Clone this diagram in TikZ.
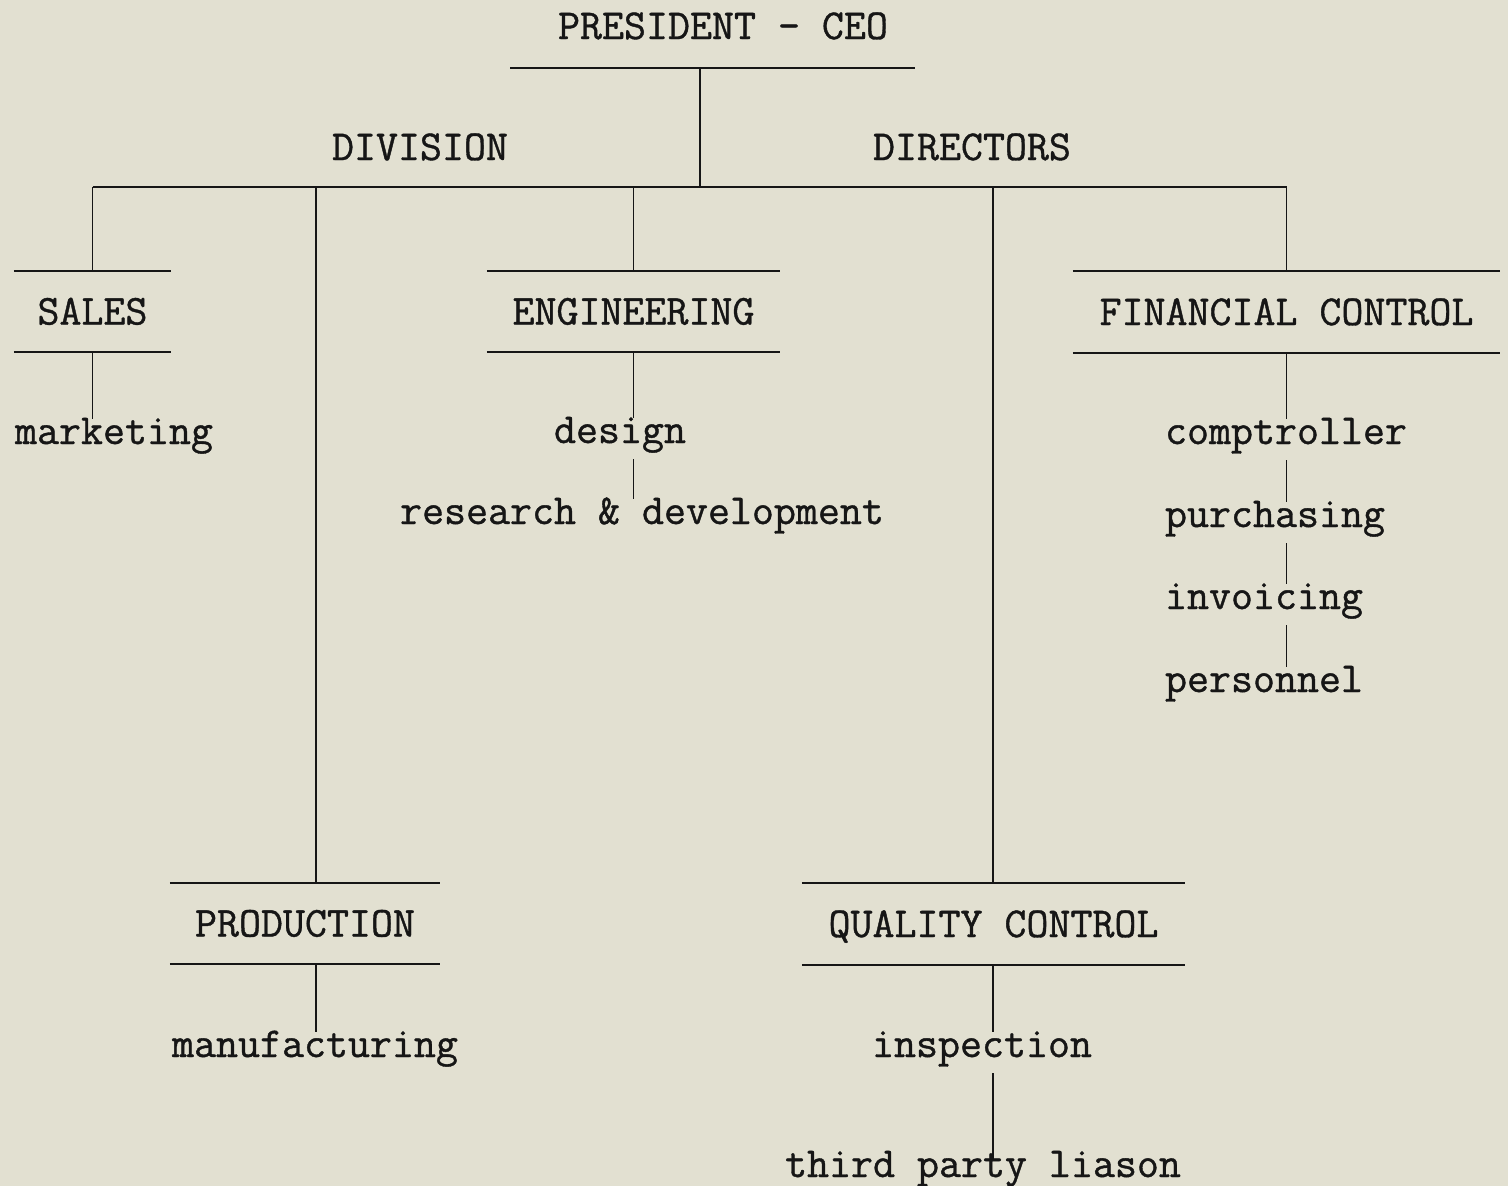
\documentclass[tikz,border=0pt]{standalone}
\usepackage{fontspec}
\newfontfamily\twfont[FakeBold=0.9]{Latin Modern Mono}
\definecolor{paper}{RGB}{226,224,209}
\definecolor{ink}{RGB}{22,22,22}
\begin{document}
\begin{tikzpicture}[x=1pt,y=-1pt,
  every node/.style={font=\twfont\fontsize{42.7}{50}\selectfont, text=ink, inner sep=0pt},
  captext/.style={text height=26pt, text depth=0pt, anchor=base},
  lowtext/.style={text height=25pt, text depth=16pt, anchor=base},
  hdrbox/.style={text height=26pt, text depth=0pt, minimum height=81pt},
  hrule/.style={draw=ink, line width=2.3pt},
  barrule/.style={draw=ink, line width=2pt},
  vrule/.style={draw=ink, line width=1.3pt}]
\useasboundingbox (0,0) rectangle (1508,1186);
\fill[paper] (0,0) rectangle (1508,1186);

% top
\node[captext] (pres) at (723,39) {PRESIDENT - CEO};
\coordinate (presL) at (510,68);
\coordinate (presR) at (915,68);
\node[captext] (div) at (420,160) {DIVISION};
\node[captext] (dir) at (972,160) {DIRECTORS};
\coordinate (bar) at (700,187);
\coordinate (pd) at (316,187);
\coordinate (qd) at (993,187);

% division headers
\node[hdrbox, minimum width=157pt] (sales) at (92.5,311.5) {SALES};
\node[hdrbox, minimum width=293pt] (eng) at (633.5,311.5) {ENGINEERING};
\node[hdrbox, minimum width=427pt] (fin) at (1286.5,312) {FINANCIAL CONTROL};
\node[hdrbox, minimum width=270pt] (prod) at (305,923.5) {PRODUCTION};
\node[hdrbox, minimum width=383pt] (qc) at (993.5,924) {QUALITY CONTROL};

% sub items
\node[lowtext] (mkt) at (114,444) {marketing};
\node[lowtext] (des) at (620,443) {design};
\node[lowtext] (rnd) at (642,524) {research \& development};
\node[lowtext] (comp) at (1286,444) {comptroller};
\node[lowtext] (purch) at (1275,527) {purchasing};
\node[lowtext] (inv) at (1264,609) {invoicing};
\node[lowtext] (pers) at (1264,692) {personnel};
\node[lowtext] (manu) at (315,1057) {manufacturing};
\node[lowtext] (insp) at (982,1057) {inspection};
\node[lowtext] (third) at (983,1177) {third party liason};

% president line and bar
\draw[hrule] (presL) -- (presR);
\draw[vrule] (presL -| bar) -- (bar);
\draw[barrule] (sales.north |- bar) -- (fin.north |- bar);

% drops
\draw[vrule] (sales.north |- bar) -- (sales.north);
\draw[vrule] (eng.north |- bar) -- (eng.north);
\draw[vrule] (fin.north |- bar) -- (fin.north);
\draw[vrule] (pd) -- (pd |- prod.north);
\draw[vrule] (qd) -- (qd |- qc.north);

% header rules
\foreach \n in {sales,eng,fin,prod,qc}{
  \draw[hrule] (\n.north west) -- (\n.north east);
  \draw[hrule] (\n.south west) -- (\n.south east);
}

% chains
\draw[vrule] (sales.south) -- (sales.south |- mkt.north);
\draw[vrule] (eng.south) -- (eng.south |- des.north);
\draw[vrule] (des.south -| eng.south) -- (rnd.north -| eng.south);
\draw[vrule] (fin.south) -- (fin.south |- comp.north);
\draw[vrule] (comp.south -| fin.south) -- (purch.north -| fin.south);
\draw[vrule] (purch.south -| fin.south) -- (inv.north -| fin.south);
\draw[vrule] (inv.south -| fin.south) -- (pers.north -| fin.south);
\draw[vrule] (prod.south -| pd) -- (manu.north -| pd);
\draw[vrule] (qc.south -| qd) -- (insp.north -| qd);
\draw[vrule, shorten >=-8pt] (insp.south -| qd) -- (third.north -| qd);
\end{tikzpicture}
\end{document}
